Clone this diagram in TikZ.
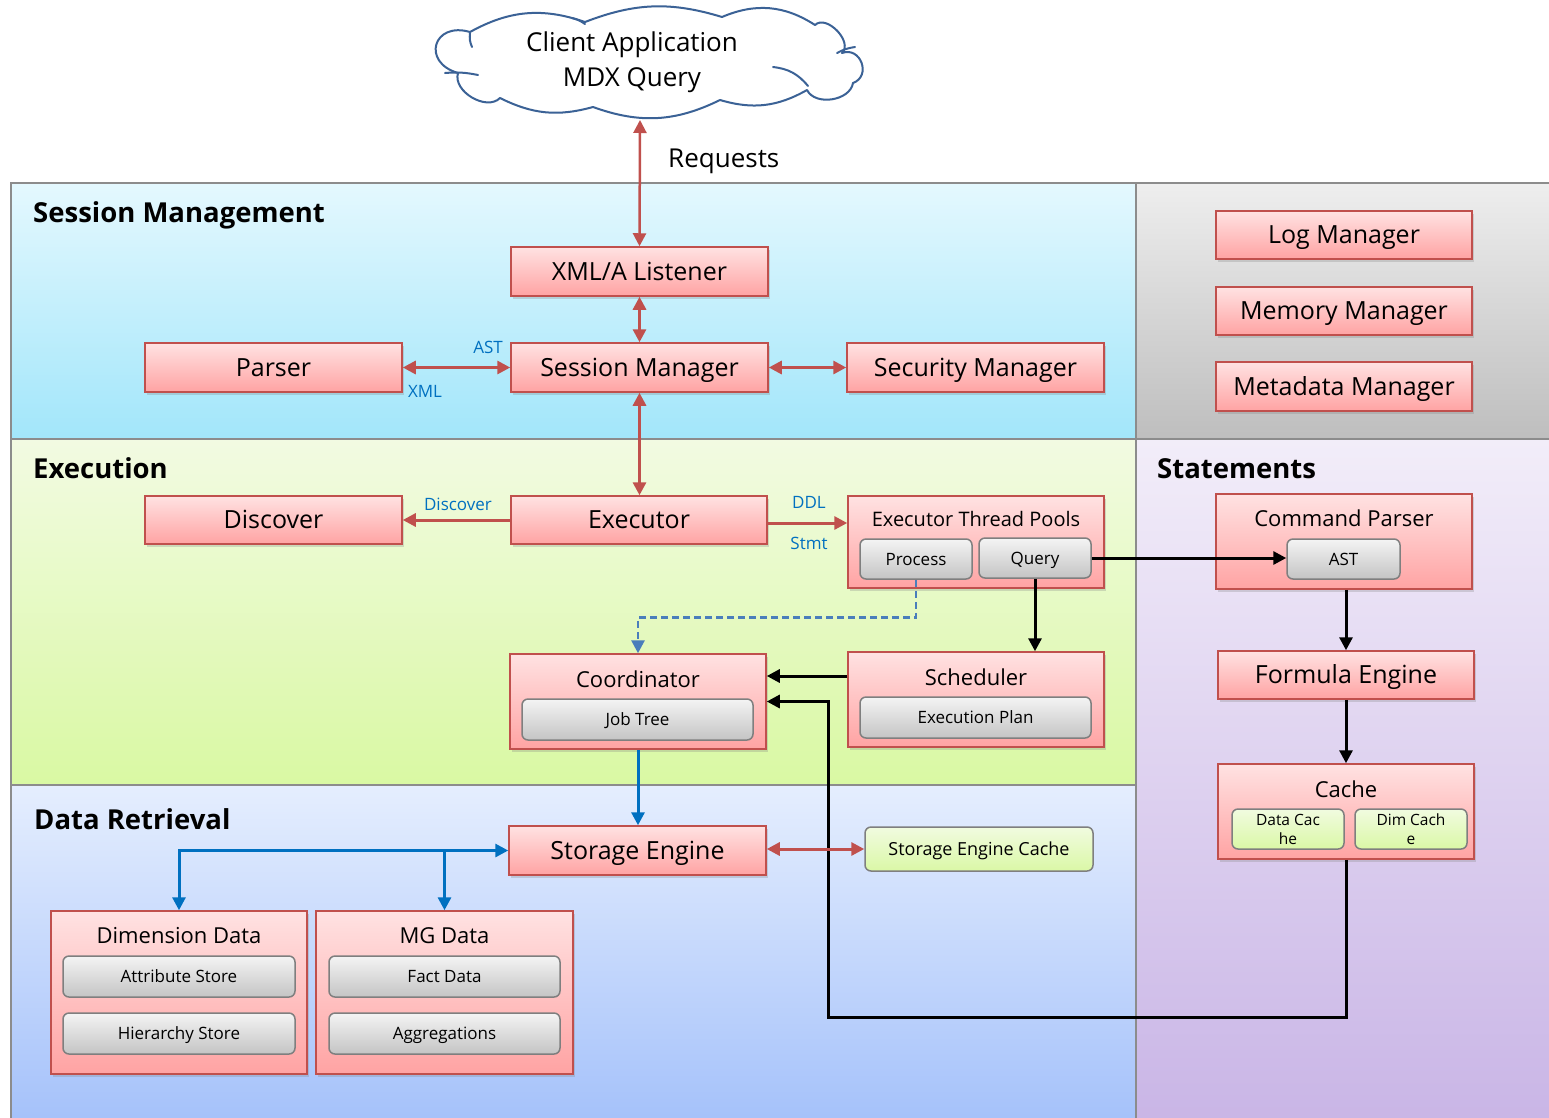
\documentclass[tikz,border=0pt]{standalone}
\usepackage{fontspec}
\setmainfont{Open Sans}
\usetikzlibrary{shadows,arrows.meta,calc}
\definecolor{redline}{HTML}{C0504D}
\definecolor{boxtop}{HTML}{FFE2E2}
\definecolor{boxbot}{HTML}{FFA3A3}
\definecolor{subtop}{HTML}{F4F4F4}
\definecolor{subbot}{HTML}{C4C4C4}
\definecolor{subline}{HTML}{7F7F7F}
\definecolor{grtop}{HTML}{F1FBE0}
\definecolor{grbot}{HTML}{DAF8A6}
\definecolor{bluelbl}{HTML}{0070C0}
\definecolor{dashblue}{HTML}{4A7EBB}
\definecolor{cloudline}{HTML}{3B6296}
\definecolor{panelline}{HTML}{8C8C8C}
\definecolor{smtop}{HTML}{E4F8FE}
\definecolor{smbot}{HTML}{A2E6FA}
\definecolor{gytop}{HTML}{EEEEEE}
\definecolor{gybot}{HTML}{BEBEBE}
\definecolor{extop}{HTML}{F2FAE2}
\definecolor{exbot}{HTML}{D9F9A3}
\definecolor{sttop}{HTML}{F2EDF9}
\definecolor{stbot}{HTML}{C9B5E6}
\definecolor{drtop}{HTML}{E5EEFE}
\definecolor{drbot}{HTML}{A4C1FA}
\tikzset{
  panelfill/.style={draw=none},
  panelborder/.style={draw=panelline, line width=2pt},
  shadowed/.style={drop shadow={opacity=0.28, shadow xshift=2pt, shadow yshift=-3pt}},
  rbox/.style={draw=redline, line width=1.5pt, top color=boxtop, bottom color=boxbot, shadowed,
    minimum width=256pt, minimum height=48pt, inner sep=0pt,
    font=\fontsize{25pt}{30pt}\selectfont, text height=17.85pt, text depth=0pt},
  cbox/.style={draw=redline, line width=1.5pt, top color=boxtop, bottom color=boxbot, shadowed,
    minimum width=256pt, inner sep=0pt},
  ttl/.style={inner sep=0pt, font=\fontsize{22pt}{26pt}\selectfont, text height=15.7pt, text depth=0pt},
  sbox/.style={draw=subline, line width=1.5pt, rounded corners=6pt, top color=subtop, bottom color=subbot,
    inner sep=0pt, font=\fontsize{17pt}{20pt}\selectfont, text height=12.1pt, text depth=0pt},
  gsub/.style={draw=subline, line width=1.5pt, rounded corners=6pt, top color=grtop, bottom color=grbot,
    inner sep=0pt, align=center, font=\fontsize{15.5pt}{19pt}\selectfont},
  lbl/.style={inner sep=0pt, text=bluelbl, font=\fontsize{17pt}{20pt}\selectfont, text height=12.1pt, text depth=0pt},
  sect/.style={inner sep=0pt, anchor=base west, font=\bfseries\fontsize{27.5pt}{32pt}\selectfont},
  redarr/.style={draw=redline, line width=3pt},
  blkarr/.style={draw=black, line width=3pt},
  bluearr/.style={draw=bluelbl, line width=3pt},
  dasharr/.style={draw=dashblue, line width=2.8pt, dash pattern=on 7pt off 4pt},
  cloudline/.style={draw=cloudline, line width=2pt, fill=white, line join=round},
  cloudin/.style={draw=cloudline, line width=2pt, line cap=round},
}
\begin{document}
\begin{tikzpicture}[x=1pt, y=-1pt, >={Triangle[length=13pt,width=13pt]}]
\useasboundingbox (0,0) rectangle (1549,1117);
\fill[white] (0,0) rectangle (1549,1117);

% panels
\path[panelfill, top color=smtop, bottom color=smbot] (11,183) rectangle (1136,439);
\path[panelfill, top color=gytop, bottom color=gybot] (1136,183) rectangle (1560,439);
\path[panelfill, top color=extop, bottom color=exbot] (11,439) rectangle (1136,785);
\path[panelfill, top color=sttop, bottom color=stbot] (1136,439) rectangle (1560,1125);
\path[panelfill, top color=drtop, bottom color=drbot] (11,785) rectangle (1136,1125);
\draw[panelborder] (11,183) rectangle (1136,439);
\draw[panelborder] (1136,183) rectangle (1560,439);
\draw[panelborder] (11,439) rectangle (1136,785);
\draw[panelborder] (1136,439) rectangle (1560,1125);
\draw[panelborder] (11,785) rectangle (1136,1125);

% section titles
\node[sect] (tsm) at (33,222) {Session Management};
\node[sect] (tex) at (33,478) {Execution};
\node[sect] (tst) at (1157,478) {Statements};
\node[sect] (tdr) at (34,829) {Data Retrieval};

% cloud
\draw[cloudline] (470,32) to[bend left=24] (585,22) to[bend left=19] (722,17)
  to[bend left=28] (815,25) to[bend left=90, looseness=1.05] (842,53)
  to[bend left=90, looseness=1.6] (853,83) to[bend left=72] (807,90)
  to[bend left=23] (720,100) to[bend left=23] (593,107) to[bend left=21] (500,98)
  to[bend left=76] (458,73) to[bend left=90, looseness=2.3] (470,32) -- cycle;
\draw[cloudin] (445,73) to[bend left=8] (478,75);
\draw[cloudin] (470,33) to[bend right=15] (472,47);
\draw[cloudin] (572,18) to[bend left=10] (585,24);
\draw[cloudin] (773,67) to[bend left=22] (808,86);
\draw[cloudin] (837,53) to[bend left=10] (855,47);
\node[inner sep=0pt, align=center, font=\fontsize{26pt}{35pt}\selectfont] (cloudtxt) at (632,62)
  {Client Application\\MDX Query};
\coordinate (reqtop) at (640,120);
\node[inner sep=0pt, anchor=base west, font=\fontsize{26pt}{30pt}\selectfont] (req) at (668,167) {Requests};

% session management boxes
\node[rbox, minimum width=257pt, minimum height=49pt] (xmla) at (639.5,271.5) {XML/A Listener};
\node[rbox, minimum width=257pt, minimum height=49pt] (parser) at (273.5,367.5) {Parser};
\node[rbox, minimum width=257pt, minimum height=49pt] (sessmgr) at (639.5,367.5) {Session Manager};
\node[rbox, minimum width=257pt, minimum height=49pt] (secmgr) at (975.5,367.5) {Security Manager};

\node[rbox] (logmgr) at (1344,235) {Log Manager};
\node[rbox] (memmgr) at (1344,311) {Memory Manager};
\node[rbox, minimum height=49pt] (metamgr) at (1344,386.5) {Metadata Manager};

% execution
\node[rbox, minimum width=257pt] (discover) at (273.5,520) {Discover};
\node[rbox] (executor) at (639,520) {Executor};

\node[cbox, minimum height=92pt] (etp) at (976,542) {};
\node[ttl, font=\fontsize{20pt}{24pt}\selectfont, text height=14.3pt] (etpT) at (976,519) {Executor Thread Pools};
\node[sbox, minimum width=112pt, minimum height=40pt] (process) at (916,559) {Process};
\node[sbox, minimum width=112pt, minimum height=40pt] (query) at (1035,558) {Query};

\node[cbox, minimum height=95pt] (coord) at (638,701.5) {};
\node[ttl] (coordT) at (638,680) {Coordinator};
\node[sbox, minimum width=231pt, minimum height=41pt] (jobtree) at (637.5,719.5) {Job Tree};

\node[cbox, minimum height=95pt] (sched) at (976,699.5) {};
\node[ttl] (schedT) at (976,678) {Scheduler};
\node[sbox, minimum width=231pt, minimum height=41pt] (execplan) at (975.5,717.5) {Execution Plan};

% statements
\node[cbox, minimum height=95pt] (cmdp) at (1344,541.5) {};
\node[ttl] (cmdpT) at (1344,519) {Command Parser};
\node[sbox, minimum width=113pt, minimum height=40pt] (ast) at (1343.5,559) {AST};

\node[rbox] (formula) at (1346,675) {Formula Engine};

\node[cbox, minimum height=95pt] (cache) at (1346,811.5) {};
\node[ttl] (cacheT) at (1346,790) {Cache};
\node[gsub, minimum width=112pt, minimum height=40pt] (datacache) at (1288,829) {Data Cac\\he};
\node[gsub, minimum width=112pt, minimum height=40pt] (dimcache) at (1411,829) {Dim Cach\\e};

% data retrieval
\node[rbox, minimum width=257pt, minimum height=49pt] (storage) at (637.5,850.5) {Storage Engine};
\node[sbox, top color=grtop, bottom color=grbot, minimum width=228pt, minimum height=44pt,
      font=\fontsize{18pt}{22pt}\selectfont, text height=12.85pt] (secache) at (979,849) {Storage Engine Cache};

\node[cbox, minimum height=163pt] (dimdata) at (179,992.5) {};
\node[ttl] (dimT) at (179,936) {Dimension Data};
\node[sbox, minimum width=232pt, minimum height=41pt] (attr) at (179,976.5) {Attribute Store};
\node[sbox, minimum width=232pt, minimum height=41pt] (hier) at (179,1033.5) {Hierarchy Store};

\node[cbox, minimum width=257pt, minimum height=163pt] (mgdata) at (444.5,992.5) {};
\node[ttl] (mgT) at (444.5,936) {MG Data};
\node[sbox, minimum width=231pt, minimum height=41pt] (fact) at (444.5,976.5) {Fact Data};
\node[sbox, minimum width=231pt, minimum height=41pt] (aggr) at (444.5,1033.5) {Aggregations};

% connectors
\draw[redarr, line width=2.5pt, <->] (reqtop) -- (xmla.north);
\draw[redarr, <->] (xmla) -- (sessmgr);
\draw[redarr, <->] (parser) -- (sessmgr);
\draw[redarr, <->] (sessmgr) -- (secmgr);
\draw[redarr, <->] (sessmgr.south) -- (executor.north -| sessmgr.south);
\draw[redarr, ->] (executor) -- (discover);
\draw[redarr, ->] ([yshift=-3pt]executor.east) -- ([yshift=-3pt]executor.east -| etp.west);

\node[lbl] (lAST) at (488,347.5) {AST};
\node[lbl] (lXML) at (425,391) {XML};
\node[lbl] (lDisc) at (458,504.5) {Discover};
\node[lbl] (lDDL) at (809,502.5) {DDL};
\node[lbl] (lStmt) at (809,543) {Stmt};

\draw[dasharr, ->] (process.south) -- ++(0,38) -| (coord.north);
\draw[blkarr, ->] (query.south) -- (query.south |- sched.north);
\draw[blkarr, ->] (query.east) -- (query.east -| ast.west);
\draw[blkarr, ->] ([yshift=23.5pt]sched.west) -- ([yshift=23.5pt]sched.west -| coord.east);
\coordinate (loopc) at (828,1017);
\draw[blkarr, ->] (cache.south) |- (loopc) |- (coord.east);
\draw[blkarr, ->] (formula.north |- cmdp.south) -- (formula.north);
\draw[blkarr, ->] (formula) -- (cache);

\draw[bluearr, ->] (coord.south) -- (coord.south |- storage.north);
\draw[redarr, <->] (storage.east |- secache.west) -- (secache.west);
\draw[bluearr, <->] (dimdata.north) |- (storage.west);
\draw[bluearr, ->] (mgdata.north |- storage.west) -- (mgdata.north);
\end{tikzpicture}
\end{document}
